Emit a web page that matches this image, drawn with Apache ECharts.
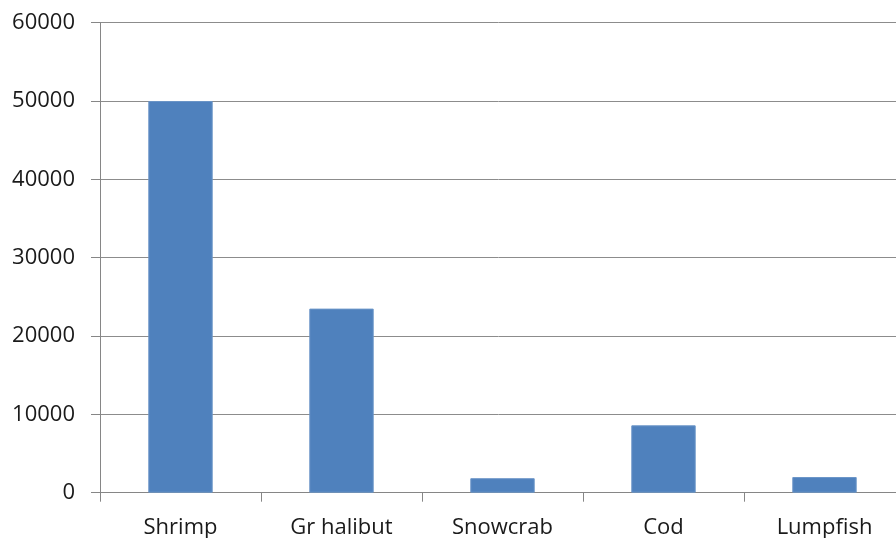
<!DOCTYPE html>
<html>
<head>
<meta charset="utf-8">
<script src="https://cdn.jsdelivr.net/npm/echarts@6/dist/echarts.min.js"></script>
<style>
  html, body { margin: 0; padding: 0; background: #fff; overflow: hidden; }
  #chart { width: 896px; height: 538px; }
</style>
</head>
<body>
<div id="chart"></div>
<script>
// Catch by species
const categories = ['Shrimp', 'Gr halibut', 'Snowcrab', 'Cod', 'Lumpfish'];
const catchValues = [50000, 23500, 1850, 8600, 2000];
const yTicks = { min: 0, max: 60000, interval: 10000 };

const chart = echarts.init(document.getElementById('chart'));
chart.setOption({
  animation: false,
  grid: {
    left: 100, width: 805, top: 22.7, height: 470,
    containLabel: false, outerBoundsMode: 'none'
  },
  xAxis: {
    type: 'category',
    data: categories,
    axisLine: { lineStyle: { color: '#868686', width: 1 } },
    axisTick: { show: true, length: 9, lineStyle: { color: '#868686' } },
    axisLabel: { color: '#1a1a1a', fontSize: 22, fontFamily: 'Open Sans', margin: 24 }
  },
  yAxis: {
    type: 'value',
    min: yTicks.min,
    max: yTicks.max,
    interval: yTicks.interval,
    axisLine: { show: true, lineStyle: { color: '#868686', width: 1 } },
    axisTick: { show: true, length: 9, lineStyle: { color: '#868686' } },
    axisLabel: {
      color: '#1a1a1a', fontSize: 22, fontFamily: 'Open Sans', margin: 25,
      formatter: v => String(v)
    },
    splitLine: { show: true, lineStyle: { color: '#8c8c8c', width: 1 } }
  },
  series: [{
    type: 'bar',
    data: catchValues,
    barWidth: '40%',
    itemStyle: { color: '#4F81BD', borderColor: '#6b95c8', borderWidth: 1 }
  }]
});
</script>
</body>
</html>
